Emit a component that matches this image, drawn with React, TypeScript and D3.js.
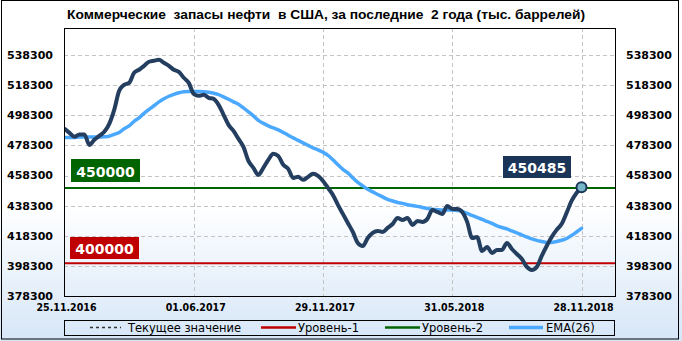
import React from "react";
import * as d3 from "d3";

const xLabels = ["25.11.2016", "01.06.2017", "29.11.2017", "31.05.2018", "28.11.2018"];
const xLabelIdx = [0, 26, 52, 78, 104];
const yTicks = [378300, 398300, 418300, 438300, 458300, 478300, 498300, 518300, 538300];
const level1 = 400000;
const level2 = 450000;

const stocks = [
  489300, 486600, 484000, 485600, 485600, 478600, 482000, 484600, 487300, 492600,
  501900, 514500, 518500, 519800, 526500, 528500, 531100, 533800, 534500, 535100,
  533100, 531100, 528500, 527100, 523200, 519800, 512500, 511200, 511900, 509900,
  509200, 505200, 498600, 491900, 487900, 482600, 477300, 468000, 463400, 458700,
  463400, 468700, 472700, 471300, 465400, 462700, 456700, 457400, 455400, 457400,
  459400, 458000, 454700, 450100, 445400, 438800, 432800, 426800, 420800, 413500,
  411500, 416800, 420200, 421500, 420800, 423500, 426100, 430100, 428800, 430100,
  425500, 428100, 427500, 429500, 435400, 434100, 432800, 438100, 436100, 436100,
  434100, 427500, 416800, 417500, 408200, 410900, 406900, 408900, 408900, 413500,
  409500, 406200, 402900, 397600, 395600, 397600, 404900, 411500, 417500, 422200,
  426100, 433500, 441400, 446700, 450485,
];

const ema26 = [
  483600, 483600, 483600, 483800, 483800, 483800, 483800, 483800, 484000, 484400,
  485600, 486900, 489300, 491300, 494300, 496600, 499600, 502200, 504600, 507200,
  509200, 510900, 512200, 513200, 513900, 514100, 514100, 514100, 513900, 513500,
  512900, 512000, 510500, 508900, 507200, 505600, 503200, 500600, 497900, 494900,
  492900, 491300, 489900, 488600, 486900, 485000, 483300, 481600, 480000, 478300,
  476600, 475300, 473700, 471700, 468700, 465400, 462400, 460000, 456700, 453700,
  451400, 449100, 447400, 445700, 444100, 442400, 441400, 440400, 439800, 438900,
  438400, 437800, 437100, 436400, 435900, 435600, 435400, 435400, 435400, 435100,
  434500, 433100, 431800, 430500, 429100, 427800, 426500, 424800, 423800, 422800,
  421500, 420200, 418800, 417500, 416200, 415200, 414500, 413900, 413900, 414500,
  415300, 416500, 418500, 420800, 423200,
];

const W = 682;
const H = 341;
const plot = { left: 64, right: 615, top: 28, bottom: 296 };

export default function App() {
  const x = d3.scaleLinear().domain([0, 104]).range([64.5, 581.5]);
  const y = d3.scaleLinear().domain([378300, 538300]).range([296, 55]);
  const line = d3
    .line<number>()
    .x((_, i) => x(i))
    .y((d) => y(d))
    .curve(d3.curveMonotoneX);
  const lastIdx = stocks.length - 1;
  const lastVal = stocks[lastIdx];
  const boldFont = "DejaVu Sans";

  const legendItems = [
    { label: "Текущее значение", color: "#333", dash: "3,3", x1: 90, x2: 121, tx: 128, w: 1.5 },
    { label: "Уровень-1", color: "#c00000", dash: "", x1: 261, x2: 296, tx: 298, w: 2.5 },
    { label: "Уровень-2", color: "#006400", dash: "", x1: 385, x2: 420, tx: 422, w: 2.5 },
    { label: "EMA(26)", color: "#4aa8ff", dash: "", x1: 509, x2: 543, tx: 546, w: 3.5 },
  ];

  return (
    <svg
      width={W}
      height={H}
      style={{ position: "absolute", left: 0, top: 0 }}
      xmlns="http://www.w3.org/2000/svg"
    >
      <defs>
        <linearGradient id="bg" x1="0" y1="0" x2="0" y2="1">
          <stop offset="0" stopColor="#ffffff" />
          <stop offset="0.6" stopColor="#ffffff" />
          <stop offset="1" stopColor="#d6e6f7" />
        </linearGradient>
        <clipPath id="plotClip">
          <rect x={plot.left} y={plot.top} width={plot.right - plot.left} height={plot.bottom - plot.top} />
        </clipPath>
      </defs>
      <rect x={0} y={0} width={W} height={H} fill="url(#bg)" />
      <rect x={1.5} y={0.5} width={677} height={338.5} fill="none" stroke="#000" strokeWidth={1} />

      <text
        x={326}
        y={19}
        textAnchor="middle"
        fontFamily="Liberation Sans, Arial, sans-serif"
        fontWeight="bold"
        fontSize={13.5}
        textLength={518}
        lengthAdjust="spacingAndGlyphs"
        style={{ whiteSpace: "pre" }}
      >
        {"Коммерческие  запасы нефти  в США, за последние  2 года (тыс. баррелей)"}
      </text>

      {/* gridlines */}
      <g stroke="#c4c4c4" strokeWidth={1} strokeDasharray="4,3">
        {yTicks.map((t) => (
          <line key={"gy" + t} x1={plot.left} x2={plot.right} y1={Math.round(y(t)) + 0.5} y2={Math.round(y(t)) + 0.5} />
        ))}
        {xLabelIdx.slice(1).map((i) => (
          <line key={"gx" + i} x1={Math.round(x(i)) + 0.5} x2={Math.round(x(i)) + 0.5} y1={plot.top} y2={plot.bottom} />
        ))}
      </g>

      {/* levels */}
      <line x1={plot.left} x2={plot.right} y1={y(level2)} y2={y(level2)} stroke="#006400" strokeWidth={2} />
      <line x1={plot.left} x2={plot.right} y1={y(level1)} y2={y(level1)} stroke="#c00000" strokeWidth={2} />

      <g clipPath="url(#plotClip)">
        <path d={line(ema26) || ""} fill="none" stroke="#4aa8ff" strokeWidth={3.5} strokeLinejoin="round" strokeLinecap="round" />
        <path d={line(stocks) || ""} fill="none" stroke="#243e5f" strokeWidth={4} strokeLinejoin="round" strokeLinecap="round" />
      </g>
      <circle cx={x(lastIdx)} cy={y(lastVal)} r={5} fill="#76b6c6" stroke="#1b3559" strokeWidth={2} />

      {/* plot frame */}
      <rect x={plot.left + 0.5} y={plot.top + 0.5} width={plot.right - plot.left} height={plot.bottom - plot.top} fill="none" stroke="#000" strokeWidth={1} />

      {/* level labels */}
      <rect x={71} y={159} width={69} height={23} fill="#006400" />
      <text x={105.5} y={176.5} textAnchor="middle" fill="#fff" fontFamily={boldFont} fontWeight="bold" fontSize={14}>
        {level2}
      </text>
      <rect x={70} y={237} width={69} height={22} fill="#c00000" />
      <text x={104.5} y={254} textAnchor="middle" fill="#fff" fontFamily={boldFont} fontWeight="bold" fontSize={14}>
        {level1}
      </text>
      <rect x={503} y={156} width={68} height={22} fill="#1b3559" />
      <text x={537} y={173} textAnchor="middle" fill="#fff" fontFamily={boldFont} fontWeight="bold" fontSize={14}>
        {lastVal}
      </text>

      {/* y axis labels */}
      {yTicks.map((t) => (
        <g key={"yl" + t} fontFamily={boldFont} fontWeight="bold" fontSize={11}>
          <text x={53} y={y(t)} dy="0.36em" textAnchor="end">{t}</text>
          <text x={626} y={y(t)} dy="0.36em" textAnchor="start">{t}</text>
        </g>
      ))}

      {/* x axis labels */}
      {xLabelIdx.map((i, k) => (
        <text
          key={"xl" + i}
          x={x(i) + 2}
          y={307}
          dy="0.36em"
          textAnchor="middle"
          fontFamily={boldFont}
          fontWeight="bold"
          fontSize={10}
          textLength={60}
          lengthAdjust="spacingAndGlyphs"
        >
          {xLabels[k]}
        </text>
      ))}

      {/* legend */}
      <rect x={64.5} y={320.5} width={550} height={15} fill="none" stroke="#000" strokeWidth={1} />
      {legendItems.map((it) => (
        <g key={it.label}>
          <line x1={it.x1} x2={it.x2} y1={327.5} y2={327.5} stroke={it.color} strokeWidth={it.w} strokeDasharray={it.dash || undefined} />
          <text x={it.tx} y={327.5} dy="0.36em" fontFamily="DejaVu Sans" fontSize={11.5}>
            {it.label}
          </text>
        </g>
      ))}
    </svg>
  );
}
